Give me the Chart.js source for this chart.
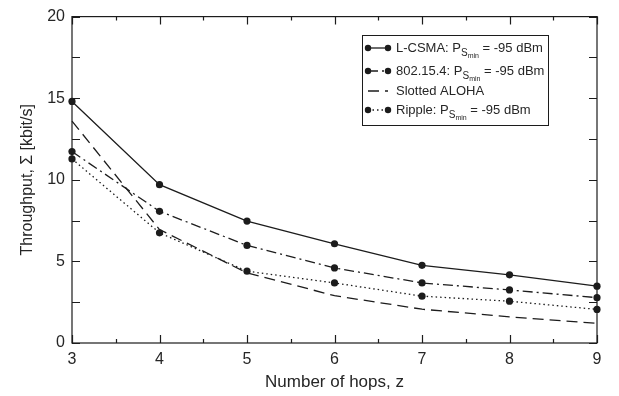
<!DOCTYPE html>
<html>
<head>
<meta charset="utf-8">
<script src="https://cdn.jsdelivr.net/npm/chart.js@4.4.0/dist/chart.umd.min.js"></script>
<style>
  html, body { margin: 0; padding: 0; background: #fff; }
  #wrap { width: 619px; height: 396px; position: relative; }
</style>
</head>
<body>
<div id="wrap"><canvas id="chart"></canvas></div>
<script>
// Throughput vs number of hops

const hops = [3, 4, 5, 6, 7, 8, 9];
const lcsma = [14.8, 9.7, 7.47, 6.08, 4.76, 4.18, 3.48];
const ieee802154 = [11.73, 8.07, 5.98, 4.6, 3.68, 3.25, 2.78];
const slottedAloha = [13.6, 6.95, 4.3, 2.9, 2.07, 1.6, 1.2];
const ripple = [11.28, 6.75, 4.4, 3.68, 2.87, 2.56, 2.06];

const yTicks = [0, 5, 10, 15, 20];
const xTicks = [3, 4, 5, 6, 7, 8, 9];

const INK = '#1c1c1c';
const TEXT = '#262626';
const FONT = '"Liberation Sans", Arial, sans-serif';

function points(ys) {
  return hops.map((x, i) => ({ x: x, y: ys[i] }));
}

function series(label, ys, dash, dots) {
  return {
    label: label,
    data: points(ys),
    borderColor: INK,
    backgroundColor: INK,
    borderWidth: 1.3,
    borderDash: dash,
    pointRadius: dots ? 3.6 : 0,
    pointHoverRadius: dots ? 3.6 : 0,
    pointBorderWidth: 0,
    tension: 0,
    clip: false,
    dots: dots
  };
}

const datasets = [
  series('L-CSMA', lcsma, [], true),
  series('802.15.4', ieee802154, [10, 4, 2, 4], true),
  series('Slotted ALOHA', slottedAloha, [11, 6], false),
  series('Ripple', ripple, [1.5, 3], true)
];

// legend rows: main text, subscript, sub-subscript, tail
const legendRows = [
  ['L-CSMA: P', 'S', 'min', ' = -95 dBm'],
  ['802.15.4: P', 'S', 'min', ' = -95 dBm'],
  ['Slotted ALOHA', '', '', ''],
  ['Ripple: P', 'S', 'min', ' = -95 dBm']
];

// inward ticks on all four sides + frame
const frameTicks = {
  id: 'frameTicks',
  afterDraw(chart) {
    const { ctx, chartArea: a, scales } = chart;
    const xs = scales.x, ys = scales.y;
    ctx.save();
    ctx.strokeStyle = INK;
    ctx.lineWidth = 1.2;
    ctx.strokeRect(a.left, a.top, a.right - a.left, a.bottom - a.top);
    ctx.beginPath();
    for (let v = 3; v <= 9.001; v += 0.5) {
      const px = Math.round(xs.getPixelForValue(v)) + 0.5;
      const len = Number.isInteger(v) ? 8 : 4;
      ctx.moveTo(px, a.bottom); ctx.lineTo(px, a.bottom - len);
      ctx.moveTo(px, a.top); ctx.lineTo(px, a.top + len);
    }
    for (let v = 0; v <= 20.001; v += 2.5) {
      const py = Math.round(ys.getPixelForValue(v)) + 0.5;
      ctx.moveTo(a.left, py); ctx.lineTo(a.left + 8, py);
      ctx.moveTo(a.right, py); ctx.lineTo(a.right - 8, py);
    }
    ctx.stroke();
    ctx.restore();
  }
};

const boxLegend = {
  id: 'boxLegend',
  afterDraw(chart) {
    const { ctx } = chart;
    const box = { left: 362, top: 35, right: 548, bottom: 125 };
    const rowY = [48, 71, 91, 110];
    ctx.save();
    ctx.fillStyle = '#fff';
    ctx.fillRect(box.left, box.top, box.right - box.left, box.bottom - box.top);
    ctx.strokeStyle = INK;
    ctx.lineWidth = 1;
    ctx.strokeRect(box.left + 0.5, box.top + 0.5, box.right - box.left, box.bottom - box.top);

    legendRows.forEach((row, i) => {
      const ds = datasets[i];
      const y = rowY[i];
      ctx.strokeStyle = INK;
      ctx.lineWidth = 1.3;
      ctx.setLineDash(ds.borderDash);
      ctx.beginPath();
      ctx.moveTo(368, y);
      ctx.lineTo(388, y);
      ctx.stroke();
      ctx.setLineDash([]);
      if (ds.dots) {
        ctx.fillStyle = INK;
        [368, 388].forEach(px => {
          ctx.beginPath();
          ctx.arc(px, y, 3.2, 0, Math.PI * 2);
          ctx.fill();
        });
      }
      ctx.fillStyle = TEXT;
      ctx.textBaseline = 'middle';
      ctx.textAlign = 'left';
      let x = 396;
      ctx.font = '13px ' + FONT;
      ctx.fillText(row[0], x, y);
      x += ctx.measureText(row[0]).width;
      if (row[1]) {
        ctx.font = '10px ' + FONT;
        ctx.fillText(row[1], x, y + 5);
        const sw = ctx.measureText(row[1]).width;
        ctx.font = '7px ' + FONT;
        ctx.fillText(row[2], x + sw, y + 8);
        x += sw + ctx.measureText(row[2]).width;
        ctx.font = '13px ' + FONT;
        ctx.fillText(row[3], x, y);
      }
    });
    ctx.restore();
  }
};

new Chart(document.getElementById('chart'), {
  type: 'line',
  data: { datasets: datasets },
  options: {
    responsive: true,
    maintainAspectRatio: false,
    animation: false,
    events: [],
    layout: { padding: { left: 0, right: 22, top: 12, bottom: 0 } },
    plugins: {
      legend: { display: false },
      tooltip: { enabled: false }
    },
    scales: {
      x: {
        type: 'linear',
        min: 3,
        max: 9,
        afterFit(scale) { scale.height = 53; },
        afterBuildTicks(scale) { scale.ticks = xTicks.map(v => ({ value: v })); },
        grid: { display: false, drawTicks: false },
        border: { display: false },
        ticks: {
          color: TEXT,
          padding: 7,
          font: { family: FONT, size: 16 }
        },
        title: {
          display: true,
          text: 'Number of hops, z',
          color: TEXT,
          font: { family: FONT, size: 17 },
          padding: { top: 4, bottom: 3 }
        }
      },
      y: {
        min: 0,
        max: 20,
        afterFit(scale) { scale.width = 72; },
        afterBuildTicks(scale) { scale.ticks = yTicks.map(v => ({ value: v })); },
        grid: { display: false, drawTicks: false },
        border: { display: false },
        ticks: {
          color: TEXT,
          padding: 7,
          font: { family: FONT, size: 16 }
        },
        title: {
          display: true,
          text: 'Throughput, \u03A3 [kbit/s]',
          color: TEXT,
          font: { family: FONT, size: 16 },
          padding: { top: 18, bottom: 0 }
        }
      }
    }
  },
  plugins: [frameTicks, boxLegend]
});
</script>
</body>
</html>
